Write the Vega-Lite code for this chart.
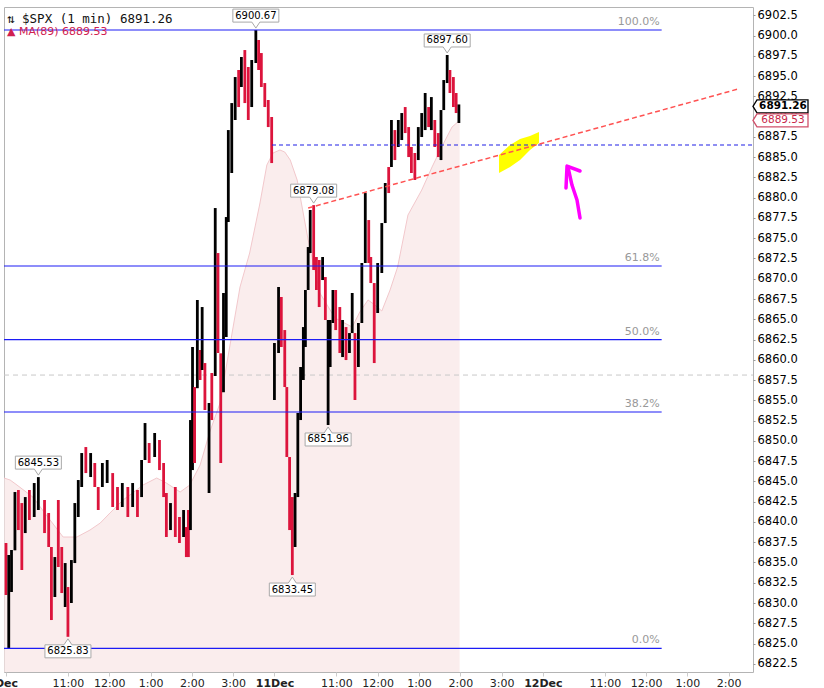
{
  "$schema": "https://vega.github.io/schema/vega-lite/v6.json",
  "width": 749,
  "height": 665,
  "autosize": {"type": "none"},
  "padding": {"left": 4, "top": 7, "right": 71, "bottom": 16},
  "background": "white",
  "title": {
    "text": "⇅ $SPX (1 min) 6891.26",
    "subtitle": "▲ MA(89) 6889.53",
    "orient": "top",
    "anchor": "start",
    "frame": "group",
    "offset": -30,
    "dx": 3,
    "font": "DejaVu Sans Mono",
    "fontSize": 12.5,
    "fontWeight": "normal",
    "color": "#111111",
    "subtitleFont": "DejaVu Sans",
    "subtitleFontSize": 11,
    "subtitleColor": "#d02050",
    "subtitlePadding": 1
  },
  "config": {
    "view": {"stroke": "#b4b4b4", "strokeWidth": 1},
    "font": "DejaVu Sans",
    "axis": {"grid": false, "domain": false, "labelOverlap": false}
  },
  "datasets": {
    "bars": [
      {"t":0,"p":6830.99,"p2":6837.40,"c":"r"},{"t":4,"p":6824.45,"p2":6835.92,"c":"k"},{"t":8,"p":6831.36,"p2":6836.54,"c":"k"},
      {"t":13,"p":6836.5,"p2":6843.69,"c":"k"},{"t":18,"p":6839.00,"p2":6843.94,"c":"r"},{"t":23,"p":6834.07,"p2":6842.33,"c":"r"},
      {"t":28,"p":6838.63,"p2":6843.07,"c":"k"},{"t":34,"p":6840.24,"p2":6843.94,"c":"r"},{"t":41,"p":6840.61,"p2":6844.80,"c":"k"},
      {"t":47,"p":6841.47,"p2":6845.53,"c":"k"},{"t":56,"p":6838.63,"p2":6842.71,"c":"r"},{"t":62,"p":6836.91,"p2":6841.10,"c":"r"},
      {"t":66,"p":6827.90,"p2":6836.91,"c":"r"},{"t":71,"p":6830.74,"p2":6835.67,"c":"k"},{"t":76,"p":6834.44,"p2":6842.71,"c":"r"},
      {"t":81,"p":6831.23,"p2":6836.91,"c":"r"},{"t":86,"p":6829.51,"p2":6834.93,"c":"k"},{"t":90,"p":6825.83,"p2":6831.97,"c":"r"},
      {"t":95,"p":6830.00,"p2":6835.30,"c":"k"},{"t":100,"p":6834.93,"p2":6842.33,"c":"k"},{"t":105,"p":6840.61,"p2":6845.17,"c":"k"},
      {"t":110,"p":6844.31,"p2":6848.50,"c":"k"},{"t":116,"p":6846.03,"p2":6849.24,"c":"r"},{"t":123,"p":6845.54,"p2":6848.50,"c":"k"},
      {"t":129,"p":6844.31,"p2":6847.27,"c":"r"},{"t":134,"p":6841.47,"p2":6844.31,"c":"r"},{"t":140,"p":6844.31,"p2":6847.27,"c":"k"},
      {"t":147,"p":6844.80,"p2":6847.64,"c":"k"},{"t":155,"p":6841.84,"p2":6846.03,"c":"r"},{"t":162,"p":6841.47,"p2":6844.31,"c":"r"},
      {"t":169,"p":6841.84,"p2":6844.80,"c":"k"},{"t":177,"p":6840.61,"p2":6844.31,"c":"r"},{"t":184,"p":6841.84,"p2":6844.80,"c":"k"},
      {"t":191,"p":6840.61,"p2":6843.94,"c":"r"},{"t":197,"p":6843.07,"p2":6847.64,"c":"k"},{"t":202,"p":6847.64,"p2":6852.20,"c":"k"},
      {"t":208,"p":6847.27,"p2":6849.74,"c":"r"},{"t":216,"p":6848.01,"p2":6850.97,"c":"k"},{"t":223,"p":6846.40,"p2":6850.11,"c":"r"},
      {"t":229,"p":6843.07,"p2":6847.27,"c":"r"},{"t":233,"p":6838.14,"p2":6843.57,"c":"r"},{"t":239,"p":6839.00,"p2":6842.33,"c":"k"},
      {"t":246,"p":6838.14,"p2":6844.31,"c":"r"},{"t":252,"p":6837.40,"p2":6840.61,"c":"r"},{"t":258,"p":6838.14,"p2":6841.47,"c":"k"},
      {"t":262,"p":6835.67,"p2":6839.37,"c":"r"},{"t":265,"p":6835.67,"p2":6841.47,"c":"r"},{"t":268,"p":6839.00,"p2":6852.57,"c":"k"},
      {"t":271,"p":6846.40,"p2":6861.58,"c":"k"},{"t":274,"p":6847.27,"p2":6856.64,"c":"r"},{"t":278,"p":6856.5,"p2":6867.38,"c":"k"},
      {"t":282,"p":6857.51,"p2":6861.21,"c":"r"},{"t":285,"p":6858.74,"p2":6866.51,"c":"k"},{"t":289,"p":6853.81,"p2":6859.60,"c":"r"},
      {"t":295,"p":6843.57,"p2":6854.67,"c":"k"},{"t":299,"p":6852.57,"p2":6858.37,"c":"r"},{"t":304,"p":6858.0,"p2":6878.72,"c":"k"},
      {"t":308,"p":6860.84,"p2":6873.17,"c":"r"},{"t":312,"p":6847.27,"p2":6860.8,"c":"r"},{"t":316,"p":6856.0,"p2":6868.24,"c":"k"},
      {"t":320,"p":6862.81,"p2":6877.61,"c":"k"},{"t":323,"p":6877.0,"p2":6888.34,"c":"k"},{"t":328,"p":6883.04,"p2":6891.67,"c":"k"},
      {"t":333,"p":6889.58,"p2":6894.88,"c":"k"},{"t":338,"p":6891.18,"p2":6895.75,"c":"r"},{"t":342,"p":6893.65,"p2":6897.35,"c":"k"},
      {"t":347,"p":6891.67,"p2":6898.21,"c":"r"},{"t":352,"p":6889.58,"p2":6896.12,"c":"r"},{"t":357,"p":6891.18,"p2":6896.98,"c":"k"},
      {"t":363,"p":6896.61,"p2":6900.67,"c":"k"},{"t":367,"p":6895.75,"p2":6899.45,"c":"r"},{"t":371,"p":6893.65,"p2":6897.84,"c":"r"},
      {"t":376,"p":6891.18,"p2":6894.14,"c":"r"},{"t":381,"p":6888.71,"p2":6892.05,"c":"r"},{"t":386,"p":6884.27,"p2":6889.95,"c":"r"},
      {"t":390,"p":6855.04,"p2":6862.07,"c":"k"},{"t":396,"p":6860.84,"p2":6868.98,"c":"k"},{"t":400,"p":6861.58,"p2":6867.75,"c":"r"},
      {"t":405,"p":6856.64,"p2":6863.67,"c":"r"},{"t":408,"p":6848.01,"p2":6856.64,"c":"r"},{"t":412,"p":6839.00,"p2":6848.01,"c":"r"},
      {"t":416,"p":6833.45,"p2":6843.07,"c":"r"},{"t":420,"p":6836.91,"p2":6843.57,"c":"k"},{"t":424,"p":6843.07,"p2":6853.44,"c":"k"},
      {"t":428,"p":6852.57,"p2":6859.11,"c":"k"},{"t":432,"p":6857.51,"p2":6864.04,"c":"k"},{"t":435,"p":6861.58,"p2":6868.61,"c":"k"},
      {"t":439,"p":6868.61,"p2":6873.91,"c":"k"},{"t":442,"p":6873.17,"p2":6878.48,"c":"k"},{"t":447,"p":6871.08,"p2":6879.08,"c":"r"},
      {"t":451,"p":6868.61,"p2":6872.68,"c":"r"},{"t":455,"p":6866.51,"p2":6872.31,"c":"r"},{"t":460,"p":6869.84,"p2":6872.68,"c":"k"},
      {"t":464,"p":6864.91,"p2":6870.21,"c":"r"},{"t":468,"p":6851.96,"p2":6864.91,"c":"k"},{"t":471,"p":6859.11,"p2":6864.91,"c":"k"},
      {"t":475,"p":6864.54,"p2":6868.61,"c":"k"},{"t":479,"p":6863.67,"p2":6868.61,"c":"r"},{"t":485,"p":6860.84,"p2":6866.51,"c":"r"},
      {"t":489,"p":6860.34,"p2":6864.91,"c":"k"},{"t":494,"p":6859.97,"p2":6864.04,"c":"r"},{"t":499,"p":6860.84,"p2":6863.30,"c":"k"},
      {"t":503,"p":6863.30,"p2":6868.24,"c":"k"},{"t":507,"p":6855.04,"p2":6863.30,"c":"r"},{"t":512,"p":6859.11,"p2":6864.54,"c":"k"},
      {"t":517,"p":6864.54,"p2":6871.94,"c":"k"},{"t":522,"p":6871.94,"p2":6880.57,"c":"k"},{"t":527,"p":6871.94,"p2":6877.24,"c":"r"},
      {"t":530,"p":6869.47,"p2":6872.68,"c":"r"},{"t":535,"p":6859.60,"p2":6869.47,"c":"r"},{"t":540,"p":6865.77,"p2":6871.94,"c":"k"},
      {"t":546,"p":6870.71,"p2":6876.87,"c":"k"},{"t":551,"p":6876.87,"p2":6881.81,"c":"k"},{"t":556,"p":6880.57,"p2":6883.78,"c":"r"},
      {"t":560,"p":6883.78,"p2":6889.58,"c":"k"},{"t":565,"p":6884.64,"p2":6888.34,"c":"r"},{"t":570,"p":6886.25,"p2":6889.58,"c":"k"},
      {"t":575,"p":6887.11,"p2":6890.44,"c":"k"},{"t":580,"p":6887.97,"p2":6891.18,"c":"r"},{"t":585,"p":6885.01,"p2":6888.71,"c":"r"},
      {"t":589,"p":6883.04,"p2":6886.25,"c":"r"},{"t":594,"p":6882.18,"p2":6885.51,"c":"r"},{"t":599,"p":6884.64,"p2":6888.71,"c":"k"},
      {"t":604,"p":6887.48,"p2":6890.44,"c":"k"},{"t":609,"p":6888.34,"p2":6892.91,"c":"k"},{"t":614,"p":6888.71,"p2":6891.18,"c":"r"},
      {"t":618,"p":6888.34,"p2":6892.41,"c":"k"},{"t":623,"p":6886.25,"p2":6889.58,"c":"r"},{"t":628,"p":6885.01,"p2":6887.97,"c":"r"},
      {"t":632,"p":6884.64,"p2":6890.81,"c":"k"},{"t":636,"p":6890.81,"p2":6894.51,"c":"k"},{"t":641,"p":6894.14,"p2":6897.60,"c":"k"},
      {"t":645,"p":6892.91,"p2":6895.75,"c":"r"},{"t":650,"p":6891.18,"p2":6894.88,"c":"r"},{"t":654,"p":6890.44,"p2":6892.91,"c":"r"},
      {"t":658,"p":6889.21,"p2":6891.5,"c":"k"}
    ],
    "ma": [
      {"t":-2.9,"p":6845.42},{"t":6,"p":6845.17},{"t":16,"p":6844.55},{"t":39,"p":6843.07},{"t":64,"p":6840.24},
      {"t":83,"p":6838.14},{"t":103,"p":6838.14},{"t":122,"p":6839.00},{"t":137,"p":6839.87},{"t":151,"p":6841.10},
      {"t":170,"p":6842.71},{"t":184,"p":6843.57},{"t":199,"p":6844.55},{"t":219,"p":6845.42},{"t":233,"p":6844.80},
      {"t":253,"p":6843.69},{"t":267,"p":6844.55},{"t":282,"p":6847.02},{"t":296,"p":6851.09},{"t":311,"p":6854.67},
      {"t":325,"p":6861.58},{"t":340,"p":6868.98},{"t":354,"p":6873.17},{"t":369,"p":6879.34},{"t":379,"p":6884.03},
      {"t":388,"p":6885.51},{"t":398,"p":6885.88},{"t":405,"p":6885.63},{"t":413,"p":6884.64},{"t":423,"p":6882.18},
      {"t":439,"p":6874.78},{"t":456,"p":6868.24},{"t":478,"p":6865.16},{"t":503,"p":6864.04},{"t":514,"p":6865.89},
      {"t":526,"p":6867.38},{"t":536,"p":6866.76},{"t":546,"p":6866.02},{"t":558,"p":6868.61},{"t":569,"p":6871.45},
      {"t":584,"p":6877.86},{"t":604,"p":6880.94},{"t":619,"p":6883.78},{"t":633,"p":6886.25},{"t":648,"p":6888.71},
      {"t":659,"p":6889.53}
    ],
    "fib": [
      {"t":-2.9,"t2":952.6,"p":6900.68,"lbl":"100.0%"},
      {"t":-2.9,"t2":952.6,"p":6871.57,"lbl":"61.8%"},
      {"t":-2.9,"t2":952.6,"p":6862.50,"lbl":"50.0%"},
      {"t":-2.9,"t2":952.6,"p":6853.56,"lbl":"38.2%"},
      {"t":-2.9,"t2":952.6,"p":6824.41,"lbl":"0.0%"}
    ],
    "blueDash": [{"t":386.5,"t2":1085.3,"p":6886.5}],
    "grayDash": [{"t":-2.9,"t2":1085.3,"p":6858.12}],
    "trend": [{"t":439,"p":6878.72,"t2":1063.5,"p2":6893.40}],
    "yellow": [
      {"t":716.3,"p":6883.04,"p2":6885.26},{"t":732.3,"p":6883.78,"p2":6886.49},
      {"t":746.8,"p":6884.64,"p2":6887.23},{"t":761.3,"p":6885.88,"p2":6887.60},
      {"t":774.4,"p":6886.74,"p2":6888.10}
    ],
    "arrow": [
      {"seg":"s","o":1,"t":816.5,"p":6883.78},{"seg":"s","o":2,"t":822.3,"p":6881.56},
      {"seg":"s","o":3,"t":829.6,"p":6879.71},{"seg":"s","o":4,"t":834.0,"p":6877.49},
      {"seg":"h","o":1,"t":834.0,"p":6883.29},{"seg":"h","o":2,"t":815.1,"p":6883.90},
      {"seg":"h","o":3,"t":813.6,"p":6881.19}
    ],
    "callouts": [
      {"t":363,"p":6900.67,"lbl":"6900.67","pos":"above"},
      {"t":641,"p":6897.60,"lbl":"6897.60","pos":"above"},
      {"t":447,"p":6879.08,"lbl":"6879.08","pos":"above"},
      {"t":47,"p":6845.53,"lbl":"6845.53","pos":"above"},
      {"t":468,"p":6851.96,"lbl":"6851.96","pos":"below"},
      {"t":416,"p":6833.45,"lbl":"6833.45","pos":"below"},
      {"t":90,"p":6825.83,"lbl":"6825.83","pos":"below"}
    ],
    "tags": [
      {"t":1085.3,"p":6891.26,"lbl":"6891.26","kind":"last"},
      {"t":1085.3,"p":6889.53,"lbl":"6889.53","kind":"ma"}
    ]
  },
  "encoding": {
    "x": {
      "field": "t", "type": "quantitative",
      "scale": {"domain": [-2.9, 1085.3], "nice": false, "zero": false},
      "axis": {
        "orient": "bottom", "title": null,
        "values": [0, 90, 150, 210, 270, 330, 390, 480, 540, 600, 660, 720, 780, 870, 930, 990, 1050],
        "tickCount": 40,
        "labelExpr": "datum.value == 0 ? '\u00a0\u00a0\u00a0Dec' : datum.value == 390 ? '11Dec' : datum.value == 780 ? '12Dec' : (floor(((datum.value % 390) + 570) / 60 - 1) % 12 + 1) + ':00'",
        "labelFontSize": 11,
        "labelColor": "#222222",
        "labelFontWeight": {"condition": {"test": "datum.value % 390 === 0", "value": "bold"}, "value": "normal"},
        "labelPadding": 1,
        "tickSize": 4,
        "tickColor": "#cccccc",
        "labelOverlap": false,
        "labelFlush": false
      }
    },
    "y": {
      "field": "p", "type": "quantitative",
      "scale": {"domain": [6821.49, 6903.52], "nice": false, "zero": false},
      "axis": {
        "orient": "right", "title": null,
        "values": [6822.5, 6825, 6827.5, 6830, 6832.5, 6835, 6837.5, 6840, 6842.5, 6845, 6847.5, 6850, 6852.5, 6855, 6857.5, 6860, 6862.5, 6865, 6867.5, 6870, 6872.5, 6875, 6877.5, 6880, 6882.5, 6885, 6887.5, 6890, 6892.5, 6895, 6897.5, 6900, 6902.5],
        "tickCount": 40,
        "format": ".1f",
        "labelFontSize": 11.5,
        "labelColor": "#000000",
        "tickSize": 2,
        "tickColor": "#999999",
        "labelPadding": 2,
        "labelOverlap": false,
        "labelFlush": false
      }
    }
  },
  "layer": [
    {
      "data": {"name": "ma"},
      "mark": {"type": "area", "color": "#f8e5e5", "line": {"color": "#f2c8cc", "strokeWidth": 1}},
      "encoding": {"y2": {"datum": 6821.49}}
    },
    {
      "data": {"name": "grayDash"},
      "mark": {"type": "rule", "color": "#c8c8c8", "strokeDash": [5, 4], "strokeWidth": 1},
      "encoding": {"x2": {"field": "t2"}}
    },
    {
      "data": {"name": "yellow"},
      "mark": {"type": "area", "color": "#ffff00", "opacity": 1},
      "encoding": {"y2": {"field": "p2"}}
    },
    {
      "data": {"name": "bars"},
      "mark": {"type": "rule", "strokeWidth": 2.8},
      "encoding": {
        "y2": {"field": "p2"},
        "color": {"field": "c", "type": "nominal", "scale": {"domain": ["k", "r"], "range": ["#000000", "#dc143c"]}, "legend": null}
      }
    },
    {
      "data": {"name": "fib"},
      "mark": {"type": "rule", "color": "#1c1cf5", "strokeWidth": 1.2},
      "encoding": {"x2": {"field": "t2"}}
    },
    {
      "data": {"name": "fib"},
      "mark": {"type": "text", "fontSize": 11, "color": "#999999", "align": "right", "baseline": "bottom", "dx": -2, "dy": -3},
      "encoding": {"x": {"field": "t2", "type": "quantitative"}, "text": {"field": "lbl"}}
    },
    {
      "data": {"name": "blueDash"},
      "mark": {"type": "rule", "color": "#1f1fe6", "strokeDash": [4, 3], "strokeWidth": 1.2},
      "encoding": {"x2": {"field": "t2"}}
    },
    {
      "data": {"name": "trend"},
      "mark": {"type": "rule", "color": "#ff5252", "strokeDash": [5, 3], "strokeWidth": 1.5},
      "encoding": {"x2": {"field": "t2"}, "y2": {"field": "p2"}}
    },
    {
      "data": {"name": "arrow"},
      "mark": {"type": "line", "color": "#ff00ff", "strokeWidth": 3.5, "strokeCap": "round", "strokeJoin": "round"},
      "encoding": {"detail": {"field": "seg"}, "order": {"field": "o", "type": "quantitative"}}
    },
    {
      "data": {"name": "callouts"},
      "transform": [{"filter": "datum.pos == 'above'"}],
      "mark": {"type": "point", "shape": "M-1,-0.913L1,-0.913L1,-0.348L0.174,-0.348L0,-0.087L-0.174,-0.348L-1,-0.348Z", "size": 2116, "filled": true, "fill": "#ffffff", "stroke": "#a8a8a8", "strokeWidth": 1, "opacity": 1}
    },
    {
      "data": {"name": "callouts"},
      "transform": [{"filter": "datum.pos == 'below'"}],
      "mark": {"type": "point", "shape": "M-1,0.913L1,0.913L1,0.348L0.174,0.348L0,0.087L-0.174,0.348L-1,0.348Z", "size": 2116, "filled": true, "fill": "#ffffff", "stroke": "#a8a8a8", "strokeWidth": 1, "opacity": 1}
    },
    {
      "data": {"name": "callouts"},
      "transform": [{"filter": "datum.pos == 'above'"}],
      "mark": {"type": "text", "fontSize": 10, "color": "#000000", "align": "center", "baseline": "middle", "dy": -14.5},
      "encoding": {"text": {"field": "lbl"}}
    },
    {
      "data": {"name": "callouts"},
      "transform": [{"filter": "datum.pos == 'below'"}],
      "mark": {"type": "text", "fontSize": 10, "color": "#000000", "align": "center", "baseline": "middle", "dy": 14.5},
      "encoding": {"text": {"field": "lbl"}}
    },
    {
      "data": {"name": "tags"},
      "transform": [{"filter": "datum.kind == 'last'"}],
      "mark": {"type": "point", "shape": "M0,0L0.145,-0.236L2,-0.236L2,0.236L0.145,0.236Z", "size": 3025, "filled": true, "fill": "#ffffff", "stroke": "#000000", "strokeWidth": 1.3, "opacity": 1}
    },
    {
      "data": {"name": "tags"},
      "transform": [{"filter": "datum.kind == 'ma'"}],
      "mark": {"type": "point", "shape": "M0,0L0.145,-0.236L2,-0.236L2,0.236L0.145,0.236Z", "size": 3025, "filled": true, "fill": "#ffffff", "stroke": "#d0506a", "strokeWidth": 1.3, "opacity": 1}
    },
    {
      "data": {"name": "tags"},
      "transform": [{"filter": "datum.kind == 'last'"}],
      "mark": {"type": "text", "fontSize": 10.5, "fontWeight": "bold", "color": "#000000", "align": "center", "baseline": "middle", "dx": 30},
      "encoding": {"text": {"field": "lbl"}}
    },
    {
      "data": {"name": "tags"},
      "transform": [{"filter": "datum.kind == 'ma'"}],
      "mark": {"type": "text", "fontSize": 10.5, "color": "#c8284a", "align": "center", "baseline": "middle", "dx": 30},
      "encoding": {"text": {"field": "lbl"}}
    }
  ]
}
